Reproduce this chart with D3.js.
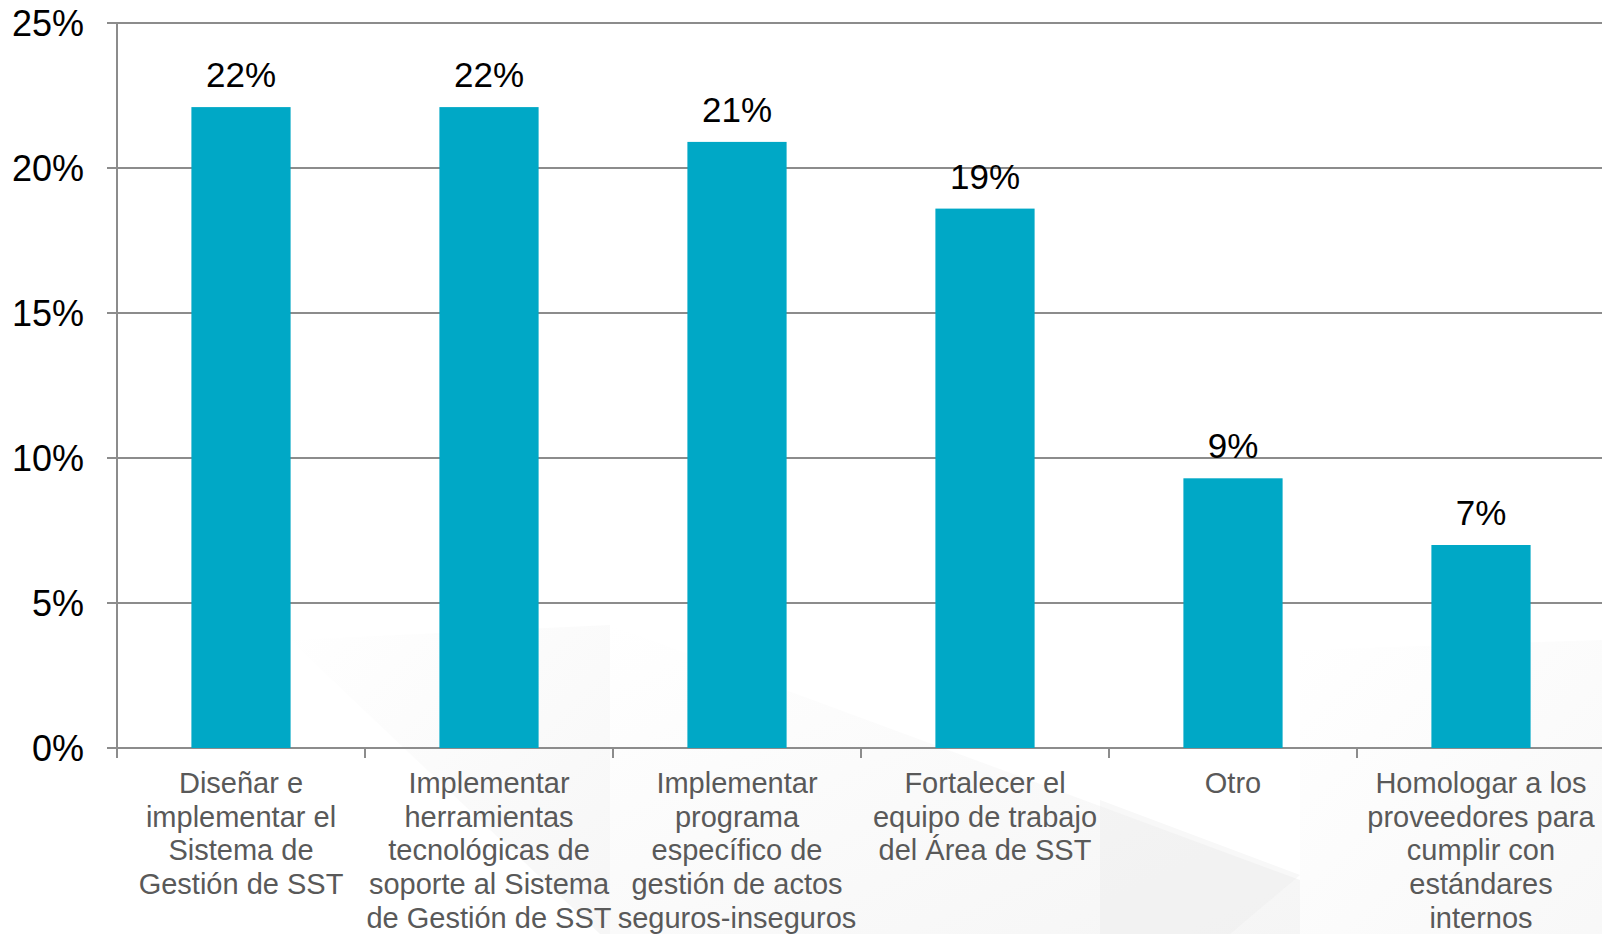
<!DOCTYPE html>
<html lang="es">
<head>
<meta charset="utf-8">
<title>Prioridades SST</title>
<script src="https://d3js.org/d3.v7.min.js"></script>
<style>
  html, body { margin: 0; padding: 0; background: #fff; }
  svg { display: block; font-family: "Liberation Sans", Arial, sans-serif; }
</style>
</head>
<body>
<svg width="1602" height="934"></svg>
<script>
// data
var categories = [
  ["Diseñar e", "implementar el", "Sistema de", "Gestión de SST"],
  ["Implementar", "herramientas", "tecnológicas de", "soporte al Sistema", "de Gestión de SST"],
  ["Implementar", "programa", "específico de", "gestión de actos", "seguros-inseguros"],
  ["Fortalecer el", "equipo de trabajo", "del Área de SST"],
  ["Otro"],
  ["Homologar a los", "proveedores para", "cumplir con", "estándares", "internos"]
];
var values = [22.1, 22.1, 20.9, 18.6, 9.3, 7.0];
var valueLabels = ["22%", "22%", "21%", "19%", "9%", "7%"];
var yTicks = [0, 5, 10, 15, 20, 25];

var svg = d3.select("svg");
var W = 1602, H = 934;

// faint background shapes
var defs = svg.append("defs");
var grad = defs.append("linearGradient").attr("id", "bgfade")
  .attr("x1", "0").attr("y1", "0").attr("x2", "1").attr("y2", "1");
grad.append("stop").attr("offset", "0").attr("stop-color", "#ffffff");
grad.append("stop").attr("offset", "1").attr("stop-color", "#ededed");
var bg = svg.append("g");
bg.append("path").attr("d", "M290,640 L610,625 L610,934 L600,934 Z").attr("fill", "url(#bgfade)").attr("opacity", 0.5);
bg.append("path").attr("d", "M610,625 L1300,880 L1300,934 L610,934 Z").attr("fill", "url(#bgfade)").attr("opacity", 0.55);
bg.append("path").attr("d", "M1300,650 L1602,640 L1602,934 L1300,934 Z").attr("fill", "url(#bgfade)").attr("opacity", 0.4);
bg.append("path").attr("d", "M1100,800 L1300,875 L1230,934 L1100,934 Z").attr("fill", "#e8e8e8").attr("opacity", 0.3);

var x = d3.scaleBand()
  .domain(d3.range(categories.length))
  .range([117, 1605])
  .padding(0);

var y = d3.scaleLinear()
  .domain([0, 25])
  .range([748, 23]);

var gridColor = "#8c8c8c";

// gridlines
svg.append("g")
  .selectAll("line")
  .data(yTicks)
  .enter().append("line")
  .attr("x1", 107).attr("x2", W)
  .attr("y1", function(d) { return y(d); })
  .attr("y2", function(d) { return y(d); })
  .attr("stroke", gridColor)
  .attr("stroke-width", 2);

// y axis line
svg.append("line")
  .attr("x1", 117).attr("x2", 117)
  .attr("y1", y(25)).attr("y2", y(0))
  .attr("stroke", gridColor).attr("stroke-width", 2);

// x ticks at band edges
svg.append("g")
  .selectAll("line")
  .data(d3.range(categories.length + 1))
  .enter().append("line")
  .attr("x1", function(i) { return 117 + i * x.step(); })
  .attr("x2", function(i) { return 117 + i * x.step(); })
  .attr("y1", y(0)).attr("y2", y(0) + 10)
  .attr("stroke", gridColor).attr("stroke-width", 2);

// y tick labels
svg.append("g")
  .selectAll("text")
  .data(yTicks)
  .enter().append("text")
  .attr("x", 84)
  .attr("y", function(d) { return y(d); })
  .attr("text-anchor", "end")
  .attr("dominant-baseline", "central")
  .attr("font-size", 36)
  .attr("fill", "#000")
  .text(function(d) { return d + "%"; });

// bars
var barW = x.bandwidth() * 0.4;
svg.append("g")
  .selectAll("rect")
  .data(values)
  .enter().append("rect")
  .attr("x", function(d, i) { return x(i) + (x.bandwidth() - barW) / 2; })
  .attr("y", function(d) { return y(d); })
  .attr("width", barW)
  .attr("height", function(d) { return y(0) - y(d); })
  .attr("fill", "#00a8c6");

// value labels
svg.append("g")
  .selectAll("text")
  .data(values)
  .enter().append("text")
  .attr("x", function(d, i) { return x(i) + x.bandwidth() / 2; })
  .attr("y", function(d) { return y(d) - 20; })
  .attr("text-anchor", "middle")
  .attr("font-size", 35)
  .attr("fill", "#000")
  .text(function(d, i) { return valueLabels[i]; });

// category labels
var cat = svg.append("g")
  .selectAll("text")
  .data(categories)
  .enter().append("text")
  .attr("text-anchor", "middle")
  .attr("font-size", 29)
  .attr("fill", "#595959");
cat.each(function(lines, i) {
  var t = d3.select(this);
  lines.forEach(function(line, j) {
    t.append("tspan")
      .attr("x", x(i) + x.bandwidth() / 2)
      .attr("y", 783 + j * 33.7)
      .attr("dominant-baseline", "central")
      .text(line);
  });
});
</script>
</body>
</html>
